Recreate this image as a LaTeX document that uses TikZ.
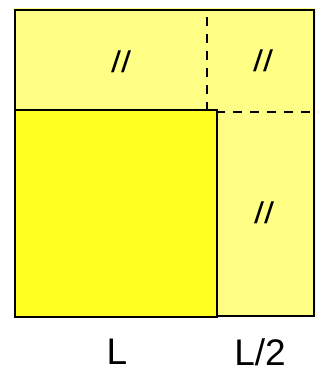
\documentclass[tikz,border=0pt]{standalone}
\usepackage{fontspec}
\setmainfont{Liberation Sans}
\definecolor{lightyel}{HTML}{FFFF85}
\definecolor{brightyel}{HTML}{FFFF22}
\tikzset{
  outline/.style={draw=black, line width=1.6pt},
  dashline/.style={draw=black, line width=1.3pt, dash pattern=on 9pt off 8pt},
  eqmark/.style={font=\fontsize{30}{32}\selectfont, inner sep=0pt, xscale=1.2},
  lbl/.style={font=\fontsize{37}{42}\selectfont, inner sep=0pt}
}
\begin{document}
\begin{tikzpicture}[x=1pt,y=-1pt]
\useasboundingbox (0,0) rectangle (321,374);
% big light square
\fill[lightyel] (14,8) rectangle (316,317);
\draw[outline] (15,316) -- (15,10) -- (314,10) -- (314,316) -- (15,316);
% inner bright square
\node[draw=black, line width=1.6pt, fill=brightyel, minimum width=202pt, minimum height=207pt, inner sep=0pt, anchor=north west] (inner) at (14,109) {};
% dashed lines
\coordinate (vtop) at (207,17);
\coordinate (vbot) at (207,109);
\coordinate (hl) at (216,112);
\coordinate (hr) at (318,112);
\draw[dashline] (vtop) -- (vbot);
\draw[dashline] (hl) -- (hr);
% equal marks
\node[eqmark] (m1) at (121,62) {//};
\node[eqmark] (m2) at (263,61) {//};
\node[eqmark] (m3) at (264,213) {//};
% labels
\node[lbl] (l1) at (117,352) {L};
\node[lbl] (l2) at (260,352) {L/2};
\end{tikzpicture}
\end{document}
